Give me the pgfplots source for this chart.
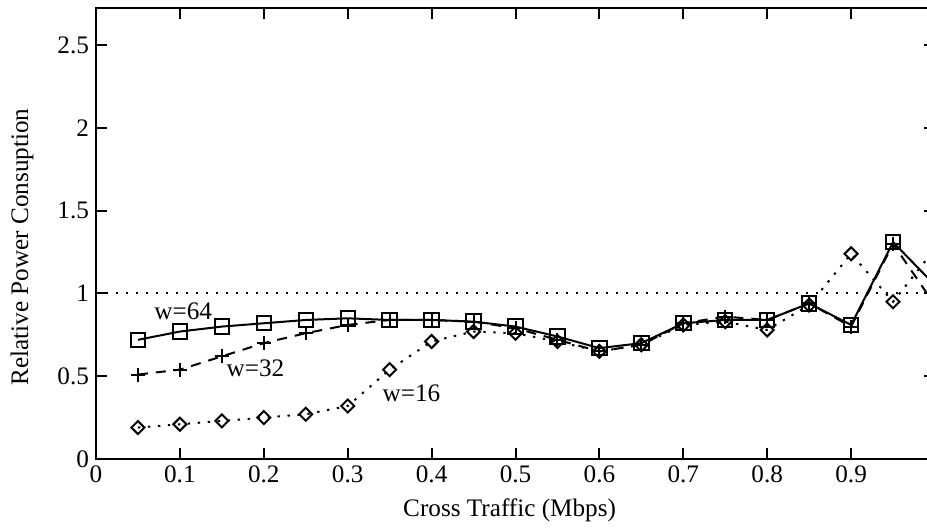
\documentclass[border=0pt]{standalone}
\usepackage{fontspec}
\setmainfont{Liberation Serif}
\usepackage{pgfplots}
\pgfplotsset{compat=1.18}
\begin{document}
\begin{tikzpicture}[font=\fontsize{12.6}{15}\selectfont]
\begin{axis}[
  name=ax,
  scale only axis,
  width=419.5pt, height=225.5pt,
  xmin=0, xmax=1, ymin=0, ymax=2.725,
  xtick={0,0.1,0.2,0.3,0.4,0.5,0.6,0.7,0.8,0.9,1},
  xticklabels={0,0.1,0.2,0.3,0.4,0.5,0.6,0.7,0.8,0.9,},
  ytick={0,0.5,1,1.5,2,2.5},
  yticklabels={0,0.5,1,1.5,2,2.5},
  tick align=inside,
  major tick length=5.5pt,
  axis line style={line width=1.2pt},
  every tick/.style={line width=1pt,black},
  /pgf/number format/assume math mode=true,
  xlabel={Cross Traffic (Mbps)},
  ylabel={Relative Power Consuption},
  every axis x label/.style={at={(axis description cs:0.493,0)}, yshift=-25.5pt, anchor=center},
  every axis y label/.style={at={(axis description cs:0,0.47)}, xshift=-37pt, rotate=90, anchor=center},
]
\addplot[black, line width=1pt, dash pattern=on 1.2pt off 3.8pt] coordinates {(0,1) (1,1)};
\addplot[black, line width=1pt, dash pattern=on 1.2pt off 3.8pt, mark=square, mark size=2.3pt,
  mark options={solid, rotate=45, line width=1pt}] coordinates {
(0.05,0.19) (0.10,0.21) (0.15,0.23) (0.20,0.25) (0.25,0.27) (0.30,0.32) (0.35,0.54)
(0.40,0.71) (0.45,0.77) (0.50,0.76) (0.55,0.71) (0.60,0.65) (0.65,0.69) (0.70,0.81)
(0.75,0.83) (0.80,0.78) (0.85,0.93) (0.90,1.24) (0.95,0.95) (1.00,1.27)};
\addplot[black, line width=1pt, dash pattern=on 5pt off 4pt, mark=+, mark size=3.5pt,
  mark options={solid, line width=1pt}] coordinates {
(0.05,0.51) (0.10,0.54) (0.15,0.62) (0.20,0.70) (0.25,0.76) (0.30,0.81) (0.35,0.84)
(0.40,0.84) (0.45,0.83) (0.50,0.79) (0.55,0.72) (0.60,0.65) (0.65,0.69) (0.70,0.82)
(0.75,0.86) (0.80,0.84) (0.85,0.94) (0.90,0.80) (0.95,1.30) (1.00,0.93)};
\addplot[black, line width=1pt, mark=square, mark size=3.6pt,
  mark options={solid, line width=1pt}] coordinates {
(0.05,0.72) (0.10,0.77) (0.15,0.80) (0.20,0.82) (0.25,0.84) (0.30,0.85) (0.35,0.84)
(0.40,0.84) (0.45,0.83) (0.50,0.80) (0.55,0.74) (0.60,0.67) (0.65,0.70) (0.70,0.82)
(0.75,0.84) (0.80,0.84) (0.85,0.94) (0.90,0.81) (0.95,1.31) (1.00,1.05)};
\node at (axis cs:0.104,0.895) {w=64};
\node at (axis cs:0.190,0.547) {w=32};
\node at (axis cs:0.376,0.395) {w=16};
\end{axis}
\pgfresetboundingbox
\useasboundingbox ([xshift=-48pt,yshift=-34.5pt]ax.south west) rectangle ++(463.5pt,264pt);
\end{tikzpicture}
\end{document}
